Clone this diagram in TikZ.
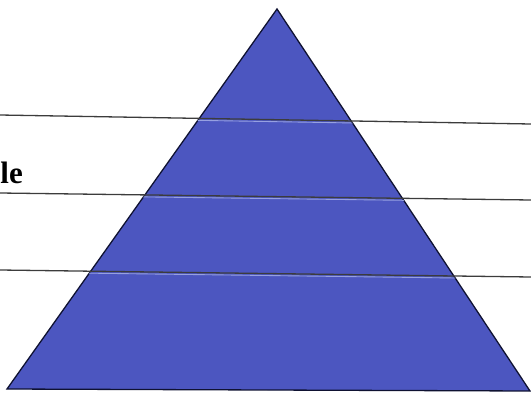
\documentclass[tikz,border=0pt]{standalone}
\usepackage{fontspec}
\setmainfont{Liberation Serif}
\usepackage{xcolor}
\usetikzlibrary{positioning,calc}
\definecolor{pyrblue}{RGB}{76,86,192}
\definecolor{pyredge}{RGB}{15,18,50}
\definecolor{rulegray}{RGB}{60,60,60}
\definecolor{glint}{RGB}{150,160,225}
\tikzset{
  pyramid/.style={fill=pyrblue,draw=pyredge,line width=1.3pt,line join=miter},
  rule/.style={draw=rulegray,line width=1.3pt},
  glow/.style={draw=glint,line width=0.9pt},
  tag/.style={font=\fontsize{31}{33}\selectfont\bfseries,inner sep=0pt},
}
\begin{document}
\begin{tikzpicture}[x=1pt,y=-1pt]
  \useasboundingbox (0,0) rectangle (531,394);
  % --- corners of the pyramid ---
  \coordinate (apex)  at (277,9);
  \coordinate (bleft) at (7,389);
  \coordinate (bright) at (530,391);
  % --- ends of the three rules ---
  \coordinate (r1w) at (0,115);   \coordinate (r1e) at (531,124);
  \coordinate (r2w) at (0,193);   \coordinate (r2e) at (531,200);
  \coordinate (r3w) at (0,270);   \coordinate (r3e) at (531,277);
  % --- pyramid ---
  \draw[pyramid] (apex) -- (bright) -- (bleft) -- cycle;
  % --- rules across it ---
  \begin{scope}
    \clip (apex) -- (bright) -- (bleft) -- cycle;
    \foreach \w/\e in {r1w/r1e,r2w/r2e,r3w/r3e}
      \draw[glow] ($(\w)+(0,2)$) -- ($(\e)+(0,2)$);
  \end{scope}
  \foreach \w/\e in {r1w/r1e,r2w/r2e,r3w/r3e}
    \draw[rule] (\w) -- (\e);
  % --- label ---
  \node[tag,anchor=base east] (lbl) at (23,183) {le};
\end{tikzpicture}
\end{document}
